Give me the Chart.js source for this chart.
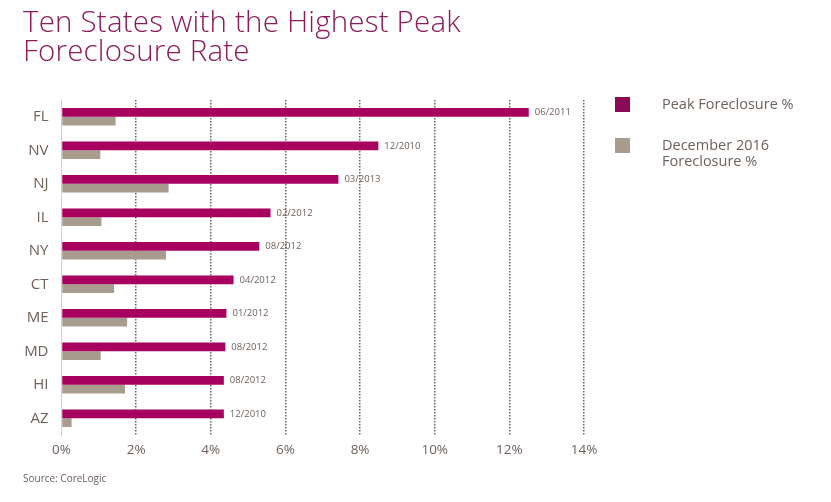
<!DOCTYPE html>
<html>
<head>
<meta charset="utf-8">
<script src="https://cdn.jsdelivr.net/npm/chart.js@4.4.0/dist/chart.umd.min.js"></script>
<style>
  body { margin: 0; background: #fff; font-family: "Open Sans", sans-serif; }
  #wrap { position: relative; width: 831px; height: 502px; overflow: hidden; }
  #chart { position: absolute; left: 0; top: 0; }
  #title { position: absolute; left: 23px; top: 6px; color: #8c1a5c; font-size: 29.5px; font-weight: 300; line-height: 29px; letter-spacing: 0.2px; }
  .leg { position: absolute; left: 615px; color: #6e605b; font-size: 14.5px; line-height: 16px; }
  .leg i { position: absolute; left: 0; top: 0; width: 15px; height: 15px; }
  .leg span { position: absolute; left: 47px; top: -1px; white-space: nowrap; }
  #source { position: absolute; left: 23px; top: 471px; color: #6e605b; font-size: 10px; }
</style>
</head>
<body>
<div id="wrap">
  <canvas id="chart" width="831" height="502"></canvas>
  <div id="title">Ten States with the Highest Peak<br>Foreclosure Rate</div>
  <div class="leg" style="top:97px"><i style="background:#8a0a55"></i><span>Peak Foreclosure %</span></div>
  <div class="leg" style="top:138px"><i style="background:#a89c8f"></i><span>December 2016<br>Foreclosure %</span></div>
  <div id="source">Source: CoreLogic</div>
</div>
<script>
const states = ["FL", "NV", "NJ", "IL", "NY", "CT", "ME", "MD", "HI", "AZ"];
const peakRate = [12.52, 8.49, 7.42, 5.60, 5.30, 4.61, 4.42, 4.39, 4.35, 4.35];
const dec2016Rate = [1.45, 1.04, 2.87, 1.07, 2.80, 1.41, 1.76, 1.05, 1.70, 0.27];
const peakDates = ["06/2011", "12/2010", "03/2013", "02/2012", "08/2012", "04/2012", "01/2012", "08/2012", "08/2012", "12/2010"];
const xTicks = [0, 2, 4, 6, 8, 10, 12, 14];

const textColor = "#6e605b";

// dates next to the peak bars
const peakDateLabels = {
  id: "peakDateLabels",
  afterDatasetsDraw(chart) {
    const ctx = chart.ctx;
    const meta = chart.getDatasetMeta(0);
    ctx.save();
    ctx.font = "9.5px 'Open Sans'";
    ctx.fillStyle = textColor;
    ctx.textBaseline = "middle";
    meta.data.forEach((bar, i) => {
      ctx.fillText(peakDates[i], bar.x + 6, bar.y);
    });
    ctx.restore();
  }
};

new Chart(document.getElementById("chart"), {
  type: "bar",
  data: {
    labels: states,
    datasets: [
      {
        label: "Peak Foreclosure %",
        data: peakRate,
        backgroundColor: "#a8005e",
        categoryPercentage: 0.52,
        barPercentage: 1.0
      },
      {
        label: "December 2016 Foreclosure %",
        data: dec2016Rate,
        backgroundColor: "#a89c8f",
        categoryPercentage: 0.52,
        barPercentage: 1.0
      }
    ]
  },
  options: {
    indexAxis: "y",
    responsive: false,
    animation: false,
    layout: { padding: { left: 11.5, right: 247, top: 100, bottom: 37 } },
    plugins: {
      legend: { display: false },
      title: { display: false },
      tooltip: { enabled: false }
    },
    scales: {
      x: {
        min: 0,
        max: 14,
        afterBuildTicks: scale => { scale.ticks = xTicks.map(v => ({ value: v })); },
        afterFit: scale => { scale.height = 30; },
        ticks: {
          color: textColor,
          font: { family: "Open Sans", size: 13.5 },
          padding: 7,
          callback: v => v + "%"
        },
        grid: {
          drawTicks: false,
          color: ctx => ctx.index === 0 ? "rgba(0,0,0,0)" : "#6e605b",
          lineWidth: 1.5
        },
        border: { display: false, dash: [1.5, 1.5] }
      },
      y: {
        afterFit: scale => { scale.width = 50; },
        ticks: {
          color: textColor,
          font: { family: "Open Sans", size: 15 },
          padding: 13
        },
        grid: { display: false, drawTicks: false },
        border: { display: true, color: "#cfcfcf", width: 1 }
      }
    }
  },
  plugins: [peakDateLabels]
});
</script>
</body>
</html>
